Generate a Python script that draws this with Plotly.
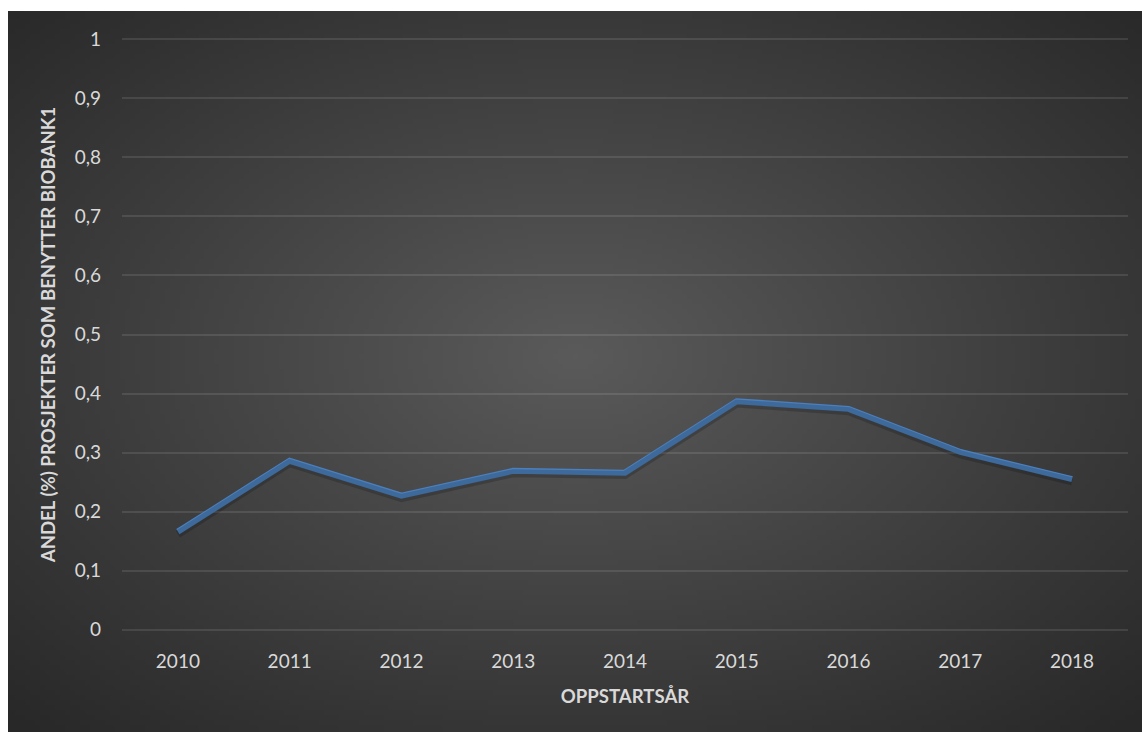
import base64
import struct
import zlib

import numpy as np
import plotly.graph_objects as go

# ---- data ----
years = ["2010", "2011", "2012", "2013", "2014", "2015", "2016", "2017", "2018"]
share = [0.166, 0.286, 0.227, 0.269, 0.266, 0.387, 0.374, 0.301, 0.255]
y_ticks = [0, 0.1, 0.2, 0.3, 0.4, 0.5, 0.6, 0.7, 0.8, 0.9, 1.0]

x_title = "OPPSTARTSÅR"
y_title = "ANDEL (%) PROSJEKTER SOM BENYTTER BIOBANK1"

# ---- layout geometry (pixels) ----
W, H = 1142, 732
PAD = 0.004                      # small range padding so edge gridlines draw
Y0, Y1 = 630, 39                 # pixel rows of values 0 and 1
unit = (Y0 - Y1)                 # pixels per 1.0
PL, PR = 122, 1128
PT = round(Y1 - PAD * unit)
PB = round(Y0 + PAD * unit)
BG_L, BG_T, BG_R, BG_B = 8, 11, 1142, 732  # dark chart area


def radial_png(w, h):
    xs = (np.arange(w) + 0.5) / w
    ys = (np.arange(h) + 0.5) / h
    X, Y = np.meshgrid(xs, ys)
    cx, cy = 0.50, 0.48
    r = np.sqrt(((X - cx) / 0.5) ** 2 + ((Y - cy) / 0.5) ** 2) / np.sqrt(2)
    r = np.clip(r, 0, 1)
    c_in, c_out = 0x5a, 0x28
    val = (c_in + (c_out - c_in) * r).round().astype(np.uint8)
    raw = b"".join(b"\x00" + val[i].tobytes() for i in range(h))

    def chunk(tag, data):
        return (struct.pack(">I", len(data)) + tag + data
                + struct.pack(">I", zlib.crc32(tag + data) & 0xFFFFFFFF))

    png = b"\x89PNG\r\n\x1a\n"
    png += chunk(b"IHDR", struct.pack(">IIBBBBB", w, h, 8, 0, 0, 0, 0))
    png += chunk(b"IDAT", zlib.compress(raw, 9))
    png += chunk(b"IEND", b"")
    return "data:image/png;base64," + base64.b64encode(png).decode()


pw, ph = PR - PL, PB - PT
img_x = (BG_L - PL) / pw
img_y = (PB - BG_T) / ph
img_sx = (BG_R - BG_L) / pw
img_sy = (BG_B - BG_T) / ph

fig = go.Figure()

# soft drop shadow of the line (drawn on an overlay axis nudged downward)
fig.add_trace(go.Scatter(
    x=years, y=share, mode="lines", yaxis="y2",
    line=dict(color="rgba(0,0,0,0.18)", width=8),
    hoverinfo="skip", showlegend=False,
))
fig.add_trace(go.Scatter(
    x=years, y=share, mode="lines",
    line=dict(color="#4b80be", width=6),
    showlegend=False,
))

tick_font = dict(family="Lato, 'Open Sans', sans-serif", size=19, color="#d9d9d9")
title_font = dict(family="Lato, 'Open Sans', sans-serif", size=18.6, color="#d9d9d9")

fig.update_layout(
    width=W, height=H,
    margin=dict(l=PL, r=W - PR, t=PT, b=H - PB),
    paper_bgcolor="white",
    plot_bgcolor="rgba(0,0,0,0)",
    separators=", ",
    images=[dict(
        source=radial_png(228, 144), xref="paper", yref="paper",
        x=img_x, y=img_y, sizex=img_sx, sizey=img_sy,
        xanchor="left", yanchor="top", sizing="stretch", layer="below",
    )],
    xaxis=dict(
        type="category", range=[-0.5, 8.5],
        showgrid=False, zeroline=False, showline=False,
        ticks="", tickfont=tick_font, ticklabelstandoff=16,
        title=dict(text="<b>" + x_title + "</b>", font=title_font, standoff=18),
    ),
    yaxis=dict(
        range=[-PAD, 1 + PAD], tickvals=y_ticks,
        showgrid=True, gridcolor="rgba(255,255,255,0.1)", gridwidth=2,
        zeroline=False, showline=False,
        ticks="", tickfont=tick_font, ticklabelstandoff=20,
        title=dict(text="<b>" + y_title + "</b>", font=title_font, standoff=14),
    ),
    yaxis2=dict(
        range=[-PAD + 0.004, 1 + PAD + 0.004], overlaying="y", visible=False,
    ),
)

fig.write_html("out.html")
